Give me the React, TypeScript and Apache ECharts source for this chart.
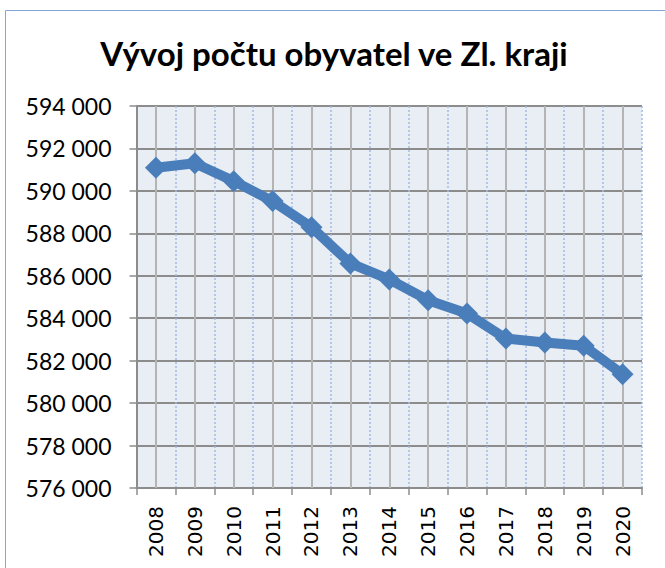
import React, { useEffect, useRef } from "react";
import * as echarts from "echarts";

const titleText = "Vývoj počtu obyvatel ve Zl. kraji";
const years = ["2008", "2009", "2010", "2011", "2012", "2013", "2014", "2015", "2016", "2017", "2018", "2019", "2020"];
const population = [591090, 591300, 590460, 589520, 588290, 586580, 585830, 584850, 584220, 583040, 582860, 582700, 581360];
const yMin = 576000;
const yMax = 594000;
const yStep = 2000;

const fmt = (v: number) => {
  const s = String(Math.round(v));
  return s.replace(/\B(?=(\d{3})+(?!\d))/g, " ");
};

export default function App() {
  const ref = useRef<HTMLDivElement>(null);
  useEffect(() => {
    if (!ref.current) return;
    const chart = echarts.init(ref.current, undefined, { renderer: "svg" });
    chart.setOption({
      animation: false,
      backgroundColor: "#ffffff",
      title: {
        text: titleText,
        left: 329,
        textAlign: "center",
        top: 31,
        textStyle: { fontFamily: "Lato", fontWeight: "bold", fontSize: 33, color: "#000000" },
      },
      graphic: [
        {
          type: "rect",
          shape: { x: 5.5, y: 10.5, width: 700, height: 600 },
          style: { fill: "none", stroke: "#86a6d6", lineWidth: 1 },
          silent: true,
          z: 0,
        },
      ],
      grid: {
        left: 136.5,
        right: 23,
        top: 106,
        bottom: 80,
        show: true,
        backgroundColor: "#e9edf4",
        borderWidth: 0,
      },
      xAxis: {
        type: "category",
        data: years,
        boundaryGap: true,
        axisLine: { show: true, lineStyle: { color: "#8c8c8c", width: 2 } },
        axisTick: { show: true, length: 7, lineStyle: { color: "#8c8c8c", width: 1.5 } },
        axisLabel: {
          rotate: 90,
          margin: 18,
          fontFamily: "DejaVu Sans",
          fontSize: 20,
          color: "#000000",
        },
        splitLine: { show: true, lineStyle: { color: "#a3bbe6", width: 1.5, type: [2, 2] } },
      },
      yAxis: {
        type: "value",
        min: yMin,
        max: yMax,
        interval: yStep,
        axisLine: { show: true, lineStyle: { color: "#8c8c8c", width: 2 } },
        axisTick: { show: true, length: 7, lineStyle: { color: "#8c8c8c", width: 1.5 } },
        axisLabel: {
          margin: 25,
          fontFamily: "Lato",
          fontSize: 23,
          color: "#000000",
          formatter: (v: number) => fmt(v),
        },
        splitLine: { show: true, lineStyle: { color: "#8c8c8c", width: 2 } },
      },
      series: [
        {
          type: "line",
          data: [],
          z: 1,
          silent: true,
          markLine: {
            silent: true,
            symbol: "none",
            z: 1,
            label: { show: false },
            lineStyle: { color: "#b4b4b4", width: 2, type: "solid" },
            data: years.map((y) => ({ xAxis: y })),
          },
        },
        {
          type: "line",
          data: population,
          z: 5,
          symbol: "diamond",
          symbolSize: 22,
          lineStyle: { color: "#4a7ebb", width: 10 },
          itemStyle: { color: "#4a7ebb" },
        },
      ],
    });
    return () => chart.dispose();
  }, []);
  return (
    <div
      ref={ref}
      style={{ position: "fixed", left: 0, top: 0, width: 665, height: 568 }}
    />
  );
}
